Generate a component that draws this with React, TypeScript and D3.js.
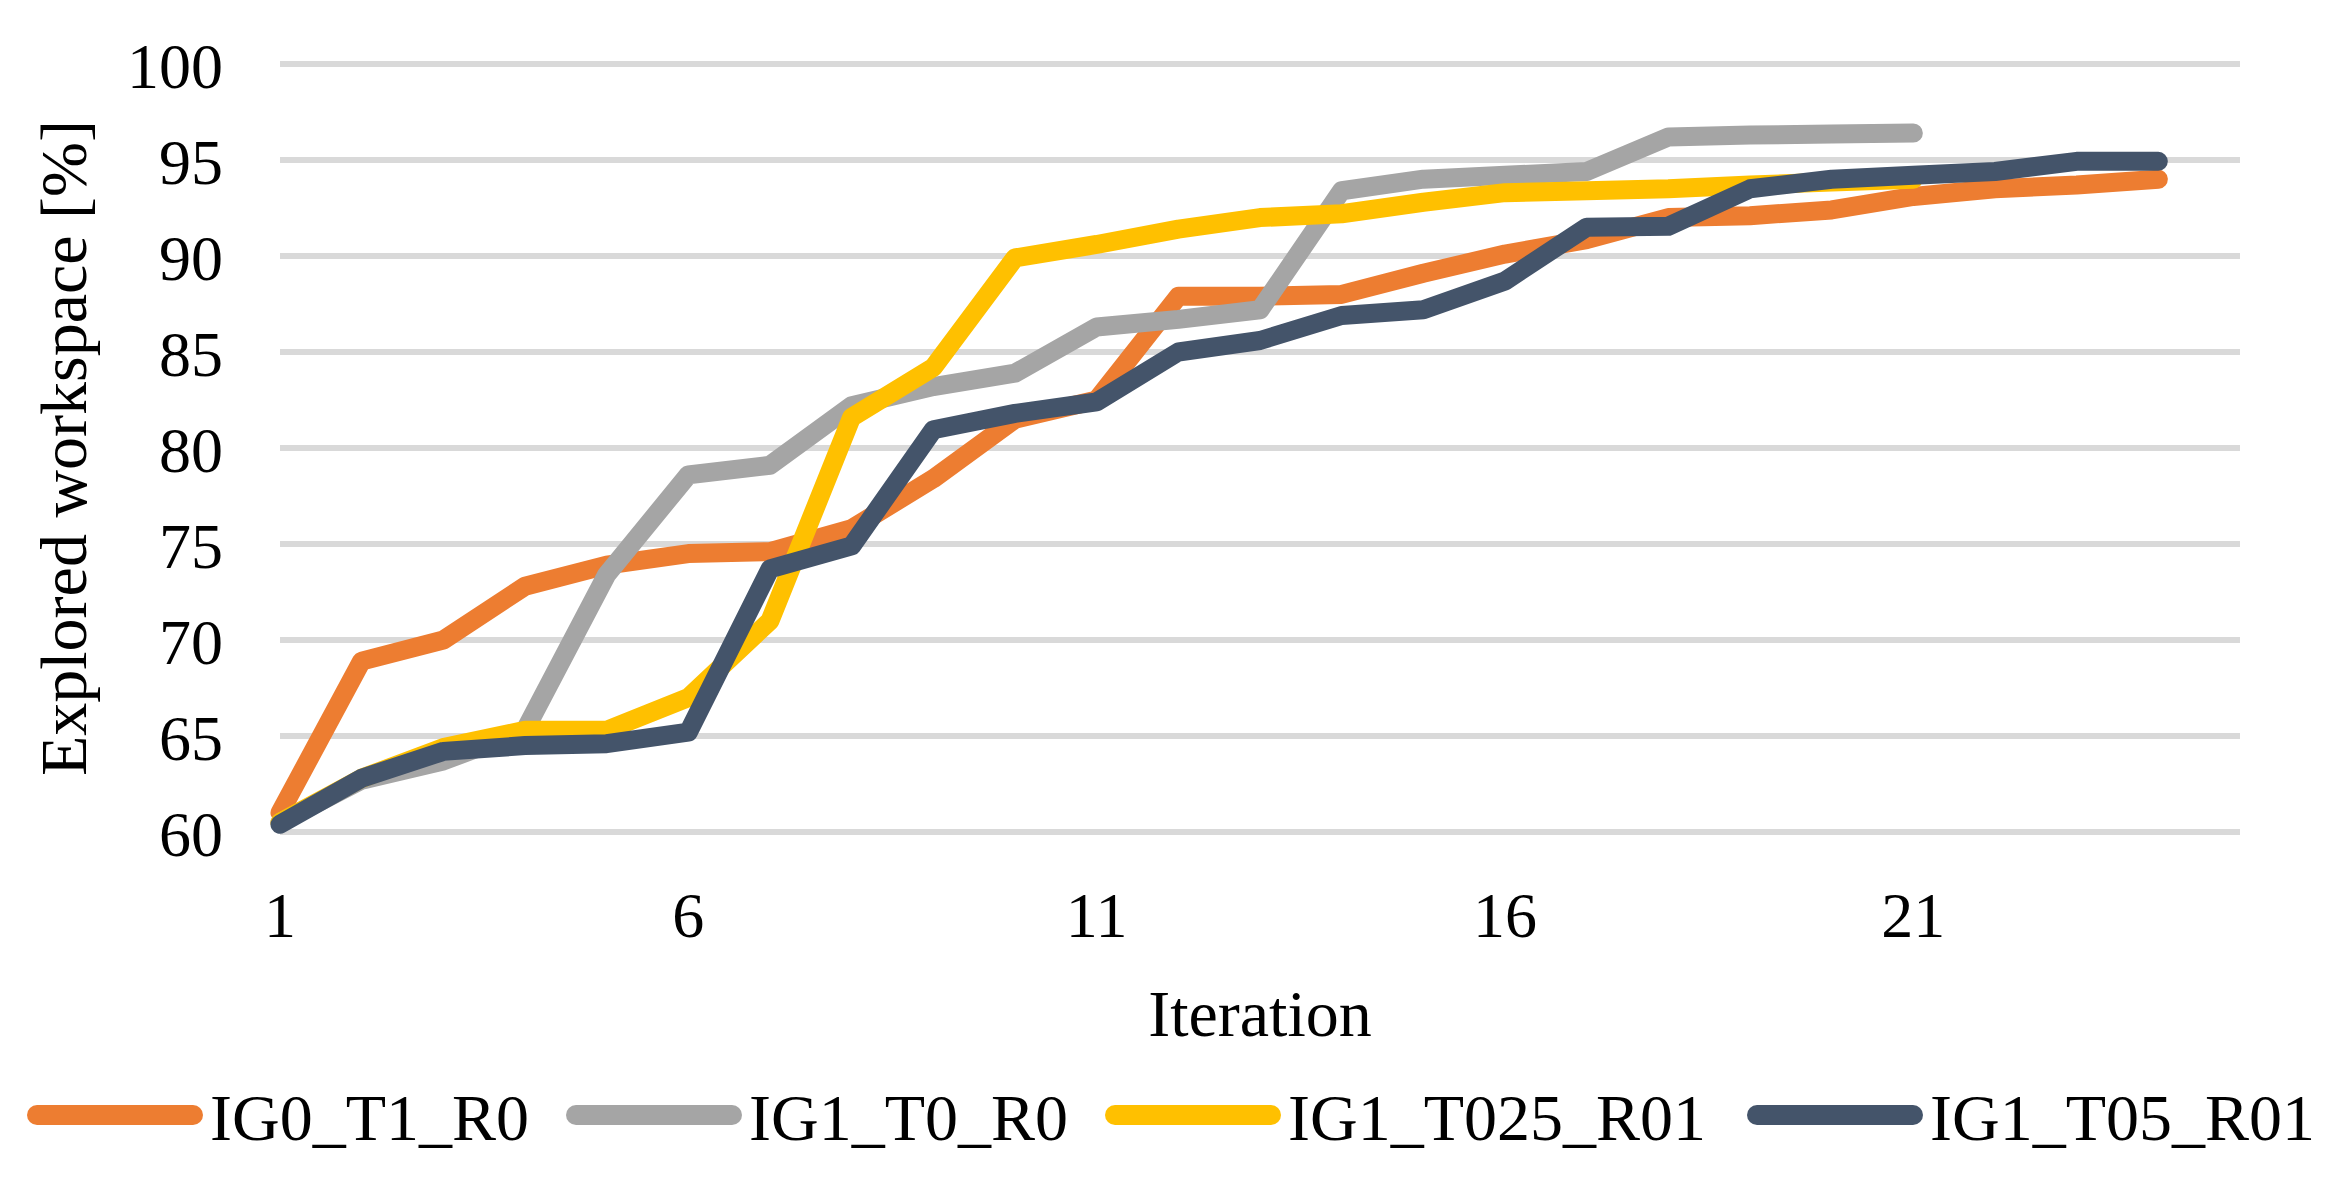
import { useEffect, useRef } from "react";
import * as d3 from "d3";

const iterations = d3.range(1, 26);
const xTicks = [1, 6, 11, 16, 21];
const yTicks = [60, 65, 70, 75, 80, 85, 90, 95, 100];

const seriesNames = ["IG0_T1_R0", "IG1_T0_R0", "IG1_T025_R01", "IG1_T05_R01"];
const seriesColors = ["#ED7D31", "#A5A5A5", "#FFC000", "#44546A"];

const ig0T1R0 = [
  61.0, 68.9, 70.0, 72.8, 73.9, 74.5, 74.6, 75.8, 78.4, 81.5, 82.5, 87.9,
  87.9, 88.0, 89.1, 90.1, 90.85, 92.0, 92.1, 92.4, 93.1, 93.5, 93.7, 94.0,
];
const ig1T0R0 = [
  60.5, 62.7, 63.7, 65.3, 73.4, 78.6, 79.1, 82.2, 83.2, 83.9, 86.3, 86.7,
  87.2, 93.4, 94.0, 94.2, 94.4, 96.2, 96.3, 96.35, 96.4,
];
const ig1T025R01 = [
  60.5, 62.8, 64.4, 65.3, 65.3, 67.0, 71.0, 81.6, 84.2, 89.9, 90.6, 91.4,
  92.0, 92.2, 92.8, 93.3, 93.4, 93.5, 93.7, 93.85, 94.0,
];
const ig1T05R01 = [
  60.4, 62.8, 64.2, 64.5, 64.6, 65.2, 73.7, 74.9, 80.95, 81.8, 82.4, 85.0,
  85.6, 86.9, 87.2, 88.7, 91.5, 91.55, 93.5, 94.0, 94.2, 94.4, 94.93, 94.93,
];

const seriesValues = [ig0T1R0, ig1T0R0, ig1T025R01, ig1T05R01];

// legend swatch start positions (left edge of each item)
const legendX = [27, 566, 1105, 1747];

const W = 2348;
const H = 1193;
const FONT = "'Liberation Serif', 'Times New Roman', serif";

export default function App() {
  const svgRef = useRef<SVGSVGElement>(null);

  useEffect(() => {
    const svg = d3.select(svgRef.current);
    svg.selectAll("*").remove();

    const x = d3.scaleLinear().domain([1, 25]).range([280, 2240]);
    const y = d3.scaleLinear().domain([60, 100]).range([832, 64]);

    svg.append("rect").attr("width", W).attr("height", H).attr("fill", "white");

    // gridlines
    svg
      .append("g")
      .selectAll("line")
      .data(yTicks)
      .join("line")
      .attr("x1", x(1))
      .attr("x2", x(25))
      .attr("y1", (d) => y(d))
      .attr("y2", (d) => y(d))
      .attr("stroke", "#D9D9D9")
      .attr("stroke-width", 6);

    // y tick labels
    svg
      .append("g")
      .selectAll("text")
      .data(yTicks)
      .join("text")
      .attr("x", 223)
      .attr("y", (d) => y(d) + 24)
      .attr("text-anchor", "end")
      .style("font-family", FONT)
      .style("font-size", "64px")
      .text((d) => d);

    // x tick labels
    svg
      .append("g")
      .selectAll("text")
      .data(xTicks)
      .join("text")
      .attr("x", (d) => x(d))
      .attr("y", 937)
      .attr("text-anchor", "middle")
      .style("font-family", FONT)
      .style("font-size", "64px")
      .text((d) => d);

    const line = d3
      .line<number>()
      .x((_, i) => x(iterations[i]))
      .y((d) => y(d));

    seriesValues.forEach((vals, i) => {
      svg
        .append("path")
        .datum(vals)
        .attr("fill", "none")
        .attr("stroke", seriesColors[i])
        .attr("stroke-width", 19)
        .attr("stroke-linejoin", "round")
        .attr("stroke-linecap", "round")
        .attr("d", line);
    });

    // axis titles
    svg
      .append("text")
      .attr("x", 1260)
      .attr("y", 1036)
      .attr("text-anchor", "middle")
      .style("font-family", FONT)
      .style("font-size", "66px")
      .text("Iteration");

    svg
      .append("text")
      .attr("transform", `translate(86, ${(y(60) + y(100)) / 2}) rotate(-90)`)
      .attr("text-anchor", "middle")
      .style("font-family", FONT)
      .style("font-size", "66px")
      .text("Explored workspace [%]");

    // legend
    const legend = svg
      .append("g")
      .selectAll("g")
      .data(seriesNames)
      .join("g")
      .attr("transform", (_, i) => `translate(${legendX[i]}, 1115)`);

    legend
      .append("line")
      .attr("x1", 10)
      .attr("x2", 166)
      .attr("stroke", (_, i) => seriesColors[i])
      .attr("stroke-width", 20)
      .attr("stroke-linecap", "round");

    legend
      .append("text")
      .attr("x", 183)
      .attr("y", 25)
      .style("font-family", FONT)
      .style("font-size", "66px")
      .text((d) => d);
  }, []);

  return (
    <svg
      ref={svgRef}
      width={W}
      height={H}
      style={{ position: "absolute", left: 0, top: 0, display: "block" }}
    ></svg>
  );
}
